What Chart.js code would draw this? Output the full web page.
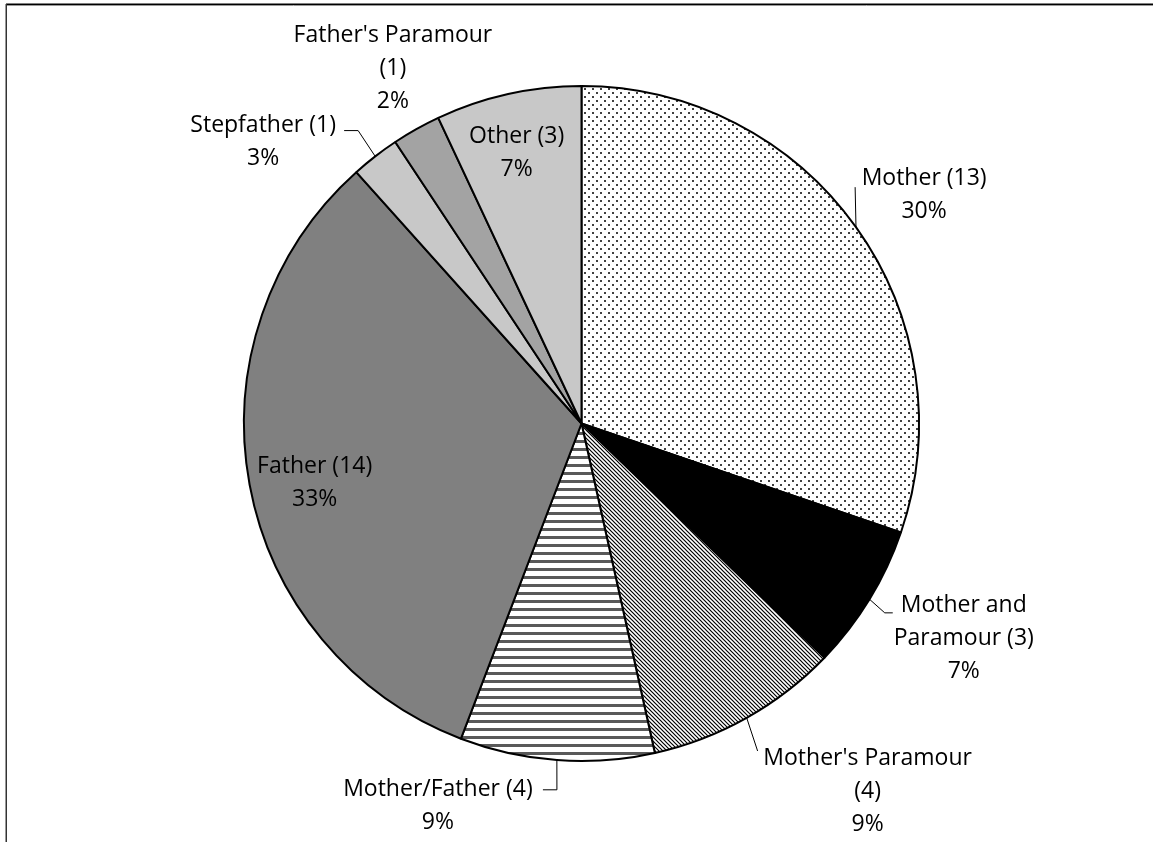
<!DOCTYPE html>
<html>
<head>
<meta charset="utf-8">
<title>Perpetrator relationship</title>
<script src="https://cdn.jsdelivr.net/npm/chart.js@4.4.0/dist/chart.umd.min.js"></script>
<style>
  html, body { margin: 0; padding: 0; background: #fff; }
  canvas { display: block; }
</style>
</head>
<body>
<canvas id="pieChart" width="1153" height="842"></canvas>
<script>
const categories = ['Mother', 'Mother and Paramour', "Mother's Paramour", 'Mother/Father', 'Father', 'Stepfather', "Father's Paramour", 'Other'];
const counts = [13, 3, 4, 4, 14, 1, 1, 3];
const percentLabels = ['30%', '7%', '9%', '9%', '33%', '3%', '2%', '7%'];

const LABEL_FONT = '23px "Open Sans"';
const LINE_H = 33;

// label placement: angle shift from slice middle (deg), distance in radii,
// wrap width, and leader [dx, dy, stub] measured from the label centre
const labelPlacement = [
  { turn: 1.9, dist: 1.22, wrap: 999, leader: [-69, -8, 0] },
  { turn: -2.0, dist: 1.30, wrap: 170, leader: [-71, -26, -8] },
  { turn: -8.6, dist: 1.38, wrap: 225, leader: [-110, -40, 0] },
  { turn: 16.4, dist: 1.21, wrap: 999, leader: [105, -16, 14] },
  { turn: -2.1, dist: 0.81, wrap: 999, leader: null },
  { turn: -10.8, dist: 1.26, wrap: 999, leader: [81, -11, 14] },
  { turn: 1.3, dist: 1.19, wrap: 225, leader: null },
  { turn: -0.9, dist: 0.825, wrap: 999, leader: null }
];

function makePattern(w, h, paint) {
  const c = document.createElement('canvas');
  c.width = w; c.height = h;
  const p = c.getContext('2d');
  p.fillStyle = '#fff';
  p.fillRect(0, 0, w, h);
  paint(p);
  return c.getContext('2d').createPattern(c, 'repeat');
}

const dots = makePattern(8, 8, p => {
  p.fillStyle = '#404040';
  p.fillRect(0, 0, 2, 2);
  p.fillRect(4, 4, 2, 2);
});
const diagonal = makePattern(4, 4, p => {
  p.strokeStyle = '#000';
  p.lineWidth = 1.2;
  p.beginPath();
  p.moveTo(-1, -1); p.lineTo(5, 5);
  p.moveTo(-1, 3); p.lineTo(1, 5);
  p.moveTo(3, -1); p.lineTo(5, 1);
  p.stroke();
});
const horizontal = makePattern(8, 8, p => {
  p.fillStyle = '#595959';
  p.fillRect(0, 0, 8, 3);
});

const fills = [dots, '#000000', diagonal, horizontal, '#808080', '#c8c8c8', '#a3a3a3', '#c8c8c8'];

function wrapText(ctx, text, maxW) {
  const words = text.split(' ');
  const lines = [];
  let cur = '';
  words.forEach(w => {
    const test = cur ? cur + ' ' + w : w;
    if (cur && ctx.measureText(test).width > maxW) {
      lines.push(cur);
      cur = w;
    } else {
      cur = test;
    }
  });
  lines.push(cur);
  return lines;
}

const framePlugin = {
  id: 'frame',
  beforeDraw(chart) {
    const ctx = chart.ctx;
    ctx.save();
    ctx.fillStyle = '#fff';
    ctx.fillRect(0, 0, chart.width, chart.height);
    ctx.strokeStyle = '#000';
    ctx.lineWidth = 1.5;
    ctx.beginPath();
    ctx.moveTo(6, 4.25);
    ctx.lineTo(chart.width, 4.25);
    ctx.stroke();
    ctx.strokeStyle = '#999';
    ctx.lineWidth = 1;
    ctx.beginPath();
    ctx.moveTo(7, 5.5);
    ctx.lineTo(chart.width, 5.5);
    ctx.stroke();
    ctx.strokeStyle = '#333';
    ctx.lineWidth = 1.5;
    ctx.beginPath();
    ctx.moveTo(6.25, 4);
    ctx.lineTo(6.25, chart.height);
    ctx.stroke();
    ctx.restore();
  }
};

const labelPlugin = {
  id: 'sliceLabels',
  afterDatasetsDraw(chart) {
    const ctx = chart.ctx;
    const meta = chart.getDatasetMeta(0);
    ctx.save();
    ctx.font = LABEL_FONT;
    ctx.fillStyle = '#000';
    ctx.strokeStyle = '#000';
    ctx.lineWidth = 1;
    ctx.textAlign = 'center';
    ctx.textBaseline = 'middle';
    meta.data.forEach((arc, i) => {
      const { x, y, startAngle, endAngle, outerRadius } =
        arc.getProps(['x', 'y', 'startAngle', 'endAngle', 'outerRadius'], true);
      const mid = (startAngle + endAngle) / 2;
      const place = labelPlacement[i];
      const a = mid + place.turn * Math.PI / 180;
      const cx = x + Math.cos(a) * outerRadius * place.dist;
      const cy = y + Math.sin(a) * outerRadius * place.dist;
      const lines = wrapText(ctx, categories[i] + ' (' + counts[i] + ')', place.wrap);
      lines.push(percentLabels[i]);
      const top = cy - (lines.length - 1) * LINE_H / 2;
      lines.forEach((t, k) => ctx.fillText(t, cx, top + k * LINE_H));

      if (place.leader) {
        const ex = x + Math.cos(mid) * outerRadius;
        const ey = y + Math.sin(mid) * outerRadius;
        const tx = cx + place.leader[0];
        const ty = cy + place.leader[1];
        ctx.beginPath();
        ctx.moveTo(ex, ey);
        ctx.lineTo(tx + place.leader[2], ty);
        ctx.lineTo(tx, ty);
        ctx.stroke();
      }
    });
    ctx.restore();
  }
};

const ctx = document.getElementById('pieChart').getContext('2d');
const pieChart = new Chart(ctx, {
  type: 'pie',
  data: {
    labels: categories,
    datasets: [{
      data: counts,
      backgroundColor: fills,
      borderColor: '#000',
      borderWidth: 2
    }]
  },
  options: {
    responsive: false,
    animation: false,
    devicePixelRatio: 1,
    layout: { padding: { left: 243, right: 233, top: 85, bottom: 80 } },
    plugins: {
      legend: { display: false },
      tooltip: { enabled: false }
    }
  },
  plugins: [framePlugin, labelPlugin]
});
</script>
</body>
</html>
